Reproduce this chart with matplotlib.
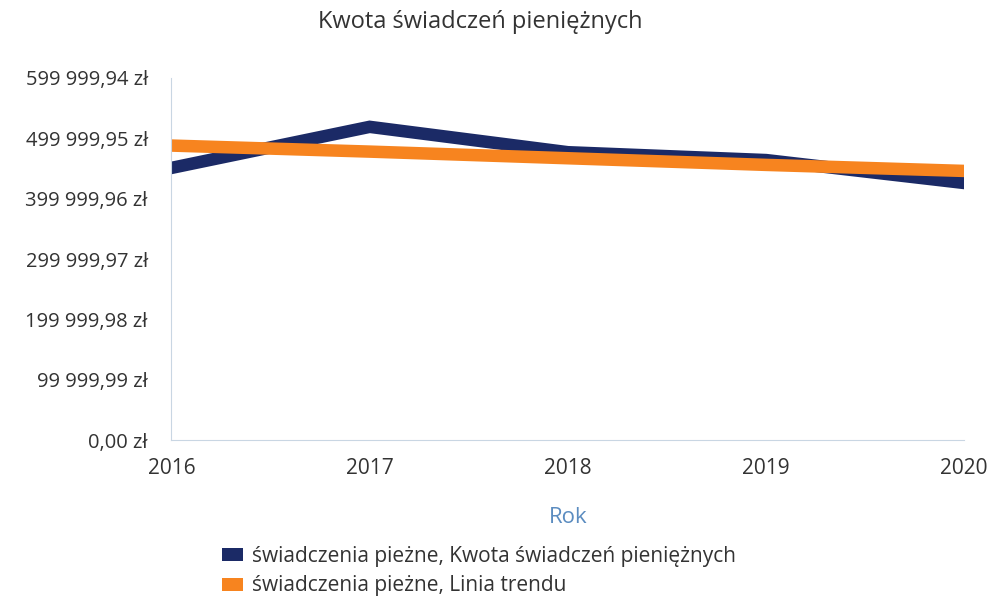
import matplotlib.pyplot as plt
from matplotlib.patches import Patch
from matplotlib.ticker import FuncFormatter

plt.rcParams['font.family'] = ['Open Sans', 'DejaVu Sans']

# Data
years = [2016, 2017, 2018, 2019, 2020]
kwota = [451000, 519000, 477000, 464000, 426000]
trend = [488000, 478000, 467000, 456000, 446000]
y_ticks = [0.00, 99999.99, 199999.98, 299999.97, 399999.96, 499999.95, 599999.94]

navy = "#1b2a66"
orange = "#f7841f"
text_col = "#333333"


def pln(v, pos=None):
    s = f"{v:,.2f}".replace(",", " ").replace(".", ",")
    return s + " zł"


fig = plt.figure(figsize=(9.91, 6.04), dpi=100)
ax = fig.add_axes([0.173, 0.271, 0.800, 0.600])

ax.plot(years, kwota, color=navy, linewidth=9, solid_joinstyle="miter")
ax.plot(years, trend, color=orange, linewidth=9)

ax.set_xlim(2016, 2020)
ax.set_ylim(0, 599999.94)
ax.set_yticks(y_ticks)
ax.yaxis.set_major_formatter(FuncFormatter(pln))
ax.set_xticks(years)
ax.set_xticklabels([str(y) for y in years])

ax.tick_params(axis="y", length=0, pad=17, labelsize=14.5, labelcolor=text_col)
ax.tick_params(axis="x", length=0, pad=13, labelsize=15, labelcolor=text_col)

for side in ["top", "right"]:
    ax.spines[side].set_visible(False)
ax.spines["left"].set_color("#c9d6e3")
ax.spines["bottom"].set_color("#c9d6e3")
ax.spines["left"].set_linewidth(0.8)
ax.spines["bottom"].set_linewidth(0.8)

ax.set_xlabel("Rok", color="#5b8cc0", fontsize=16, labelpad=20)
fig.text(0.485, 0.963, "Kwota świadczeń pieniężnych", ha="center", va="center",
         fontsize=17, color=text_col)

handles = [Patch(facecolor=navy, label="świadczenia pieżne, Kwota świadczeń pieniężnych"),
           Patch(facecolor=orange, label="świadczenia pieżne, Linia trendu")]
fig.legend(handles=handles, loc="upper left", bbox_to_anchor=(0.214, 0.113),
           frameon=False, fontsize=15, labelcolor=text_col, handlelength=1.0,
           handleheight=0.6, handletextpad=0.4, labelspacing=0.4, borderpad=0)

fig.savefig("out.png", dpi=100)
